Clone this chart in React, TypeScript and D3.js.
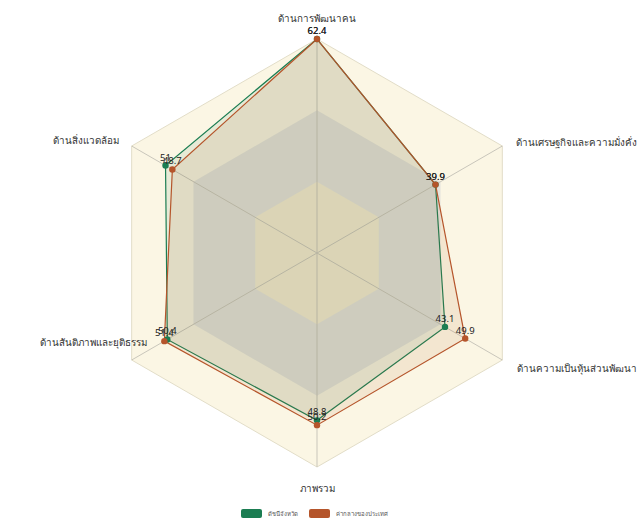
import React from "react";
import * as d3 from "d3";

const indicators = [
  "ด้านการพัฒนาคน",
  "ด้านสิ่งแวดล้อม",
  "ด้านสันติภาพและยุติธรรม",
  "ภาพรวม",
  "ด้านความเป็นหุ้นส่วนพัฒนา",
  "ด้านเศรษฐกิจและความมั่งคั่ง",
];
const provinceValues = [62.4, 51, 50.4, 48.8, 43.1, 39.9];
const nationalValues = [62.4, 48.7, 51.4, 50.2, 49.9, 39.9];
const seriesNames = ["ดัชนีจังหวัด", "ค่ากลางของประเทศ"];
const maxValue = 62.4;
const splitNumber = 3;

const W = 640;
const H = 519;
const cx = 317;
const cy = 253;
const R = 214;
const GREEN = "#1b7d52";
const ORANGE = "#b5552b";
const FONT = "'Noto Sans', 'DejaVu Sans', Tahoma, sans-serif";

// label placement: anchor and offsets relative to outer vertex
const labelPlacement = [
  { anchor: "middle", dx: 0, dy: -20 },
  { anchor: "end", dx: -13, dy: -5 },
  { anchor: "end", dx: 15, dy: -17 },
  { anchor: "middle", dx: 0, dy: 22 },
  { anchor: "start", dx: 15, dy: 9 },
  { anchor: "start", dx: 14, dy: -3 },
];

export default function App() {
  const n = indicators.length;
  const r = d3.scaleLinear().domain([0, maxValue]).range([0, R]);
  const angle = (i: number) => -Math.PI / 2 - (i * 2 * Math.PI) / n;
  const pt = (i: number, rad: number): [number, number] => [
    cx + rad * Math.cos(angle(i)),
    cy + rad * Math.sin(angle(i)),
  ];
  const poly = (rad: number) =>
    d3.range(n).map((i) => pt(i, rad).join(",")).join(" ");

  const ringFills = ["#f4eed3", "#e5e4dd", "#fbf6e4"];
  const rings = d3.range(splitNumber, 0, -1).map((k) => ({
    k,
    rad: (R * k) / splitNumber,
    fill: ringFills[k - 1],
  }));

  const line = d3
    .line<number>()
    .x((v, i) => pt(i, r(v))[0])
    .y((v, i) => pt(i, r(v))[1])
    .curve(d3.curveLinearClosed);

  const series = [
    { name: seriesNames[0], values: provinceValues, color: GREEN, op: 0.09 },
    { name: seriesNames[1], values: nationalValues, color: ORANGE, op: 0.1 },
  ];

  return (
    <svg
      width={W}
      height={H}
      style={{ position: "absolute", left: 0, top: 0, background: "#fff" }}
      fontFamily={FONT}
    >
      {rings.map((rg) => (
        <polygon
          key={rg.k}
          points={poly(rg.rad)}
          fill={rg.fill}
          stroke={rg.k === splitNumber ? "#e2ddc8" : "none"}
          strokeWidth={1}
        />
      ))}
      {d3.range(n).map((i) => {
        const [x, y] = pt(i, R);
        return (
          <line key={i} x1={cx} y1={cy} x2={x} y2={y} stroke="#c9c6bb" strokeWidth={1} />
        );
      })}
      {series.map((s) => (
        <path
          key={s.name}
          d={line(s.values) || ""}
          fill={s.color}
          fillOpacity={s.op}
          stroke={s.color}
          strokeWidth={1.2}
        />
      ))}
      {series.map((s) =>
        s.values.map((v, i) => {
          const [x, y] = pt(i, r(v));
          return <circle key={s.name + i} cx={x} cy={y} r={3.2} fill={s.color} />;
        })
      )}
      {series.map((s) =>
        s.values.map((v, i) => {
          const [x, y] = pt(i, r(v));
          return (
            <text
              key={"l" + s.name + i}
              x={x}
              y={y - 5}
              textAnchor="middle"
              fontSize={9.5}
              fill="#222"
            >
              {String(v)}
            </text>
          );
        })
      )}
      {indicators.map((name, i) => {
        const [x, y] = pt(i, R);
        const p = labelPlacement[i];
        return (
          <text
            key={name}
            x={x + p.dx}
            y={y + p.dy}
            textAnchor={p.anchor as any}
            dominantBaseline="middle"
            fontSize={9.8}
            fill="#333"
          >
            {name}
          </text>
        );
      })}
      {series.map((s, i) => {
        const lx = 241 + i * 68;
        return (
          <g key={"lg" + i}>
            <rect x={lx} y={509} width={21} height={9} rx={2} fill={s.color} />
            <text x={lx + 27} y={514} dominantBaseline="middle" fontSize={6} fill="#555">
              {s.name}
            </text>
          </g>
        );
      })}
    </svg>
  );
}
